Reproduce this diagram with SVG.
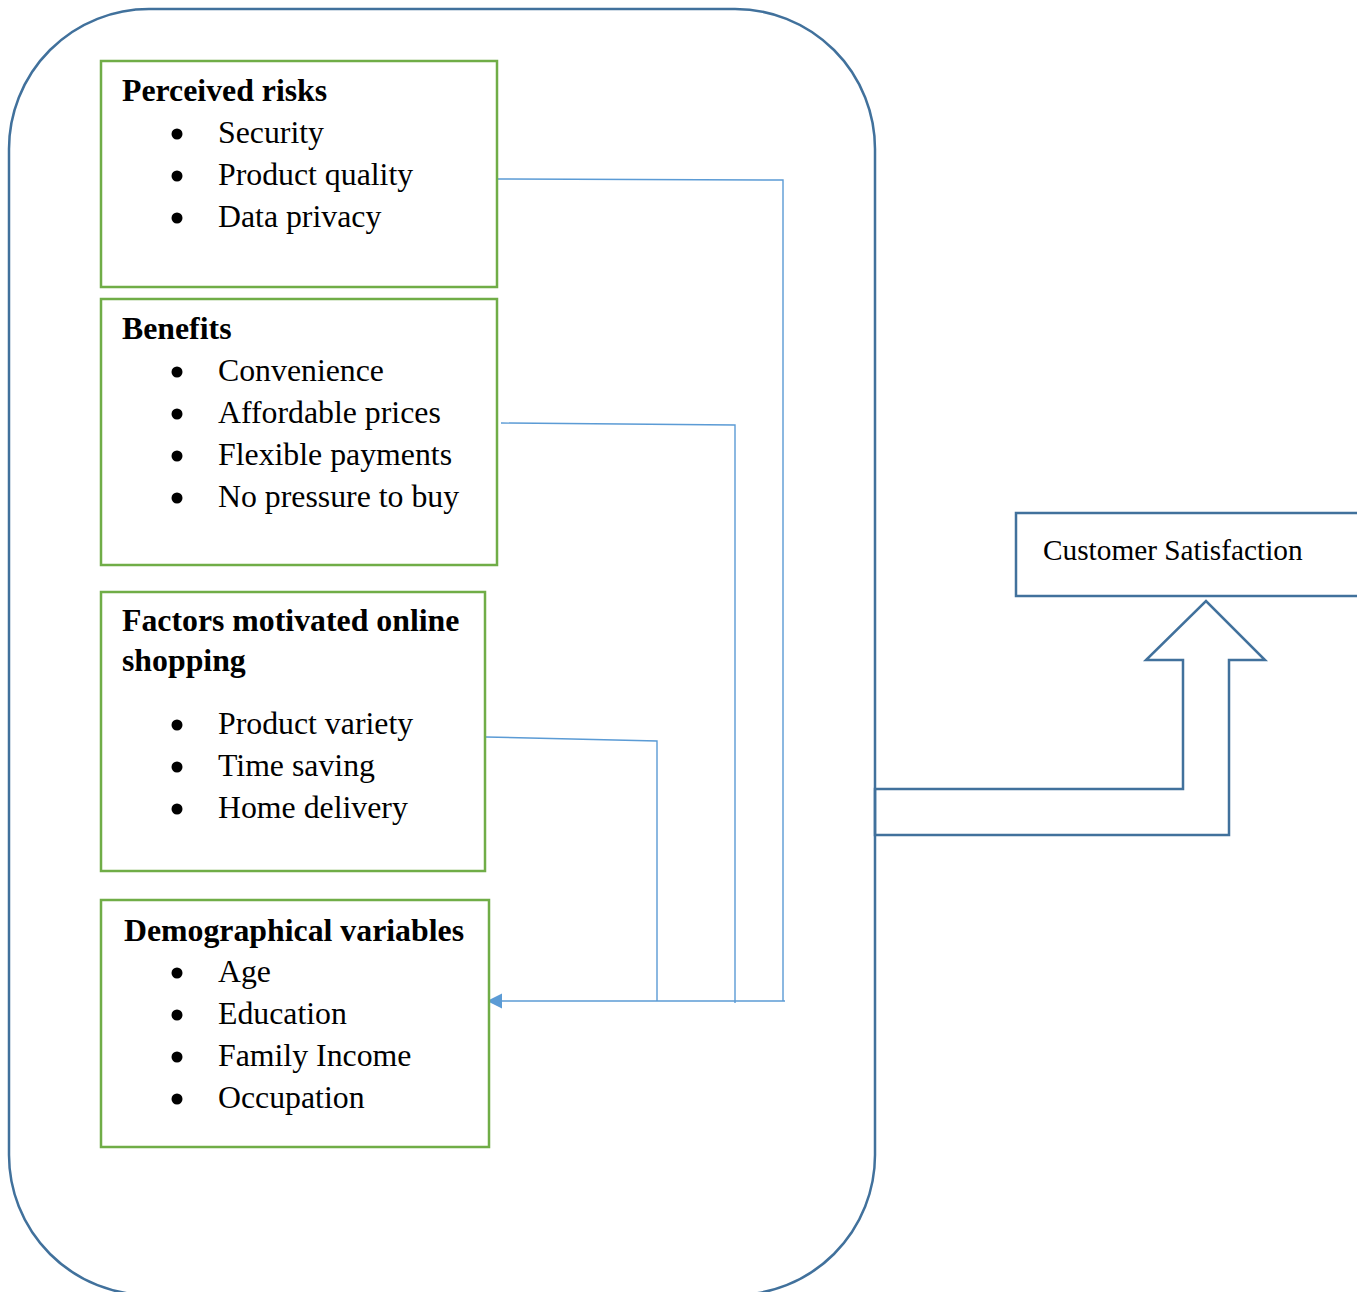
<svg xmlns="http://www.w3.org/2000/svg" width="1357" height="1292" viewBox="0 0 1357 1292">
<style>
.frame{fill:none;stroke:#41719C;stroke-width:2.5}
.box{fill:#fff;stroke:#70AD47;stroke-width:2.5}
.t{font-family:"Liberation Serif","Times New Roman",serif;fill:#000}
.h{font-size:31.8px;font-weight:bold}
.i{font-size:31.8px}
.c{font-size:29.3px}
.b{fill:#000}
.conn{fill:none;stroke:#5B9BD5;stroke-width:1.4}
</style>
<defs>
<marker id="ah" markerWidth="16" markerHeight="16" refX="15" refY="7.5" orient="auto" markerUnits="userSpaceOnUse">
<path d="M0,0 L15,7.5 L0,15 Z" fill="#5B9BD5"/>
</marker>
</defs>
<rect width="1357" height="1292" fill="#fff"/>
<g id="outer-frame">
<rect class="frame" x="9" y="9" width="866" height="1286" rx="140" ry="140"/>
</g>
<g id="connectors">
<polyline class="conn" points="497,179 783,180 783,1001"/>
<polyline class="conn" points="501,423 735,425 735,1003"/>
<polyline class="conn" points="486,737 657,741 657,1001"/>
<line class="conn" x1="785" y1="1001" x2="487" y2="1001" marker-end="url(#ah)"/>
<path class="frame" d="M875,789 L1183,789 L1183,660 L1146,660 L1206,601 L1265,660 L1229,660 L1229,835 L875,835 Z"/>
</g>
<g id="perceived-risks">
<rect class="box" x="101" y="61" width="396" height="226"/>
<text class="t h" x="122" y="101">Perceived risks</text>
<circle class="b" cx="177" cy="134" r="5.5"/><text class="t i" x="218" y="143">Security</text>
<circle class="b" cx="177" cy="176" r="5.5"/><text class="t i" x="218" y="185">Product quality</text>
<circle class="b" cx="177" cy="218" r="5.5"/><text class="t i" x="218" y="227">Data privacy</text>
</g>
<g id="benefits">
<rect class="box" x="101" y="299" width="396" height="266"/>
<text class="t h" x="122" y="339">Benefits</text>
<circle class="b" cx="177" cy="372" r="5.5"/><text class="t i" x="218" y="381">Convenience</text>
<circle class="b" cx="177" cy="414" r="5.5"/><text class="t i" x="218" y="423">Affordable prices</text>
<circle class="b" cx="177" cy="456" r="5.5"/><text class="t i" x="218" y="465">Flexible payments</text>
<circle class="b" cx="177" cy="498" r="5.5"/><text class="t i" x="218" y="507">No pressure to buy</text>
</g>
<g id="factors">
<rect class="box" x="101" y="592" width="384" height="279"/>
<text class="t h" x="122" y="631">Factors motivated online</text>
<text class="t h" x="122" y="671">shopping</text>
<circle class="b" cx="177" cy="725" r="5.5"/><text class="t i" x="218" y="734">Product variety</text>
<circle class="b" cx="177" cy="767" r="5.5"/><text class="t i" x="218" y="776">Time saving</text>
<circle class="b" cx="177" cy="809" r="5.5"/><text class="t i" x="218" y="818">Home delivery</text>
</g>
<g id="demographical">
<rect class="box" x="101" y="900" width="388" height="247"/>
<text class="t h" x="124" y="941">Demographical variables</text>
<circle class="b" cx="177" cy="973" r="5.5"/><text class="t i" x="218" y="982">Age</text>
<circle class="b" cx="177" cy="1015" r="5.5"/><text class="t i" x="218" y="1024">Education</text>
<circle class="b" cx="177" cy="1057" r="5.5"/><text class="t i" x="218" y="1066">Family Income</text>
<circle class="b" cx="177" cy="1099" r="5.5"/><text class="t i" x="218" y="1108">Occupation</text>
</g>
<g id="customer-satisfaction">
<rect x="1016" y="513" width="345" height="83" fill="#fff" stroke="#41719C" stroke-width="2.5"/>
<text class="t c" x="1043" y="560">Customer Satisfaction</text>
</g>
</svg>
